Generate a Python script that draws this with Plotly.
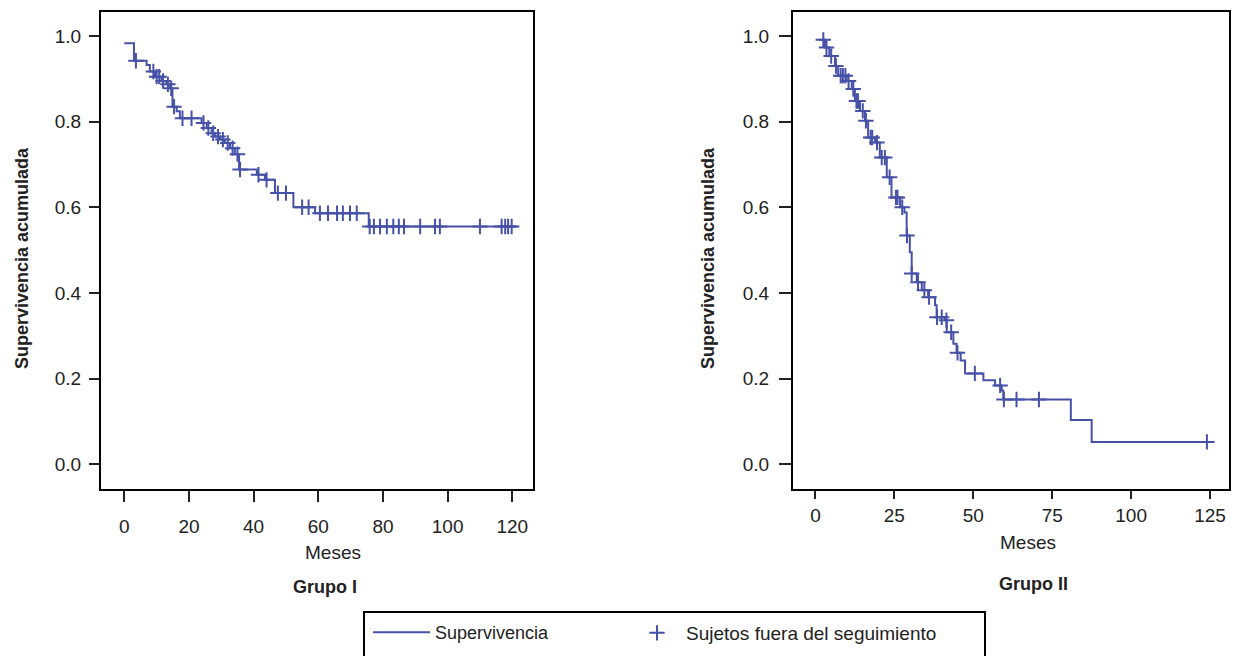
import numpy as np
import plotly.graph_objects as go

# ---------------- data ----------------
# Grupo I: Kaplan-Meier step points (time in months, cumulative survival after the step)
times_I = [0, 3, 6.9, 7.9, 9.5, 11.5, 13, 14.1, 14.9, 16.2, 17.2, 23.9, 25.5, 27, 28.1,
           29.6, 31.1, 32.7, 34.2, 35.5, 41, 43.5, 46.6, 52.3, 59, 75.6]
surv_I = [0.983, 0.942, 0.932, 0.917, 0.905, 0.895, 0.887, 0.878, 0.835, 0.824, 0.808,
          0.797, 0.785, 0.773, 0.765, 0.758, 0.750, 0.738, 0.724, 0.688, 0.676, 0.664,
          0.633, 0.600, 0.586, 0.555]
end_I = 121.4
censor_I = [3.6, 9, 10, 10.8, 12, 13.5, 14.5, 15.4, 18, 20.8, 24.5, 26, 27.5, 29, 30.5,
            32, 33.5, 35, 35.8, 41.5, 44, 47.5, 50, 55, 57, 60.5, 63, 65.8, 67.6, 69.8,
            71.9, 75.9, 77.2, 79.1, 81.2, 83.2, 84.9, 86.5, 91.5, 96.1, 97.6, 110,
            116.7, 117.8, 118.7, 119.8]

# Grupo II
times_II = [1.1, 3.0, 4.4, 6.2, 7.2, 9.9, 11.5, 12.5, 14.1, 15.7, 16.7, 18.9, 20.4, 22.6,
            24.1, 26.8, 28.2, 28.9, 29.9, 30.5, 32.1, 33.7, 35.7, 37.9, 38.4, 41.0, 41.6,
            43.7, 44.7, 46.0, 47.4, 53.2, 56.9, 59.0, 59.5, 80.9, 87.5]
surv_II = [0.991, 0.973, 0.953, 0.930, 0.907, 0.895, 0.876, 0.848, 0.825, 0.802, 0.763,
           0.751, 0.716, 0.670, 0.623, 0.600, 0.588, 0.534, 0.495, 0.445, 0.425, 0.406,
           0.390, 0.371, 0.343, 0.336, 0.308, 0.281, 0.260, 0.242, 0.212, 0.196, 0.184,
           0.172, 0.151, 0.103, 0.052]
end_II = 124.0
censor_II = [2.5, 3.5, 5, 6.5, 8, 8.7, 9.5, 10.5, 12, 13, 13.5, 15, 16, 17.5, 18, 19.5,
             21, 22, 23.5, 25.5, 26, 27.5, 29, 30.5, 32.5, 34.5, 36, 38.5, 40, 41.5, 43,
             45, 50.5, 58.5, 59.7, 63.7, 70.8, 124.0]

ticks_x_I = [0, 20, 40, 60, 80, 100, 120]
ticks_x_II = [0, 25, 50, 75, 100, 125]
ticks_y = [0.0, 0.2, 0.4, 0.6, 0.8, 1.0]

# ---------------- helpers ----------------
def step_value(times, surv, t):
    idx = np.searchsorted(np.asarray(times), t, side="right") - 1
    idx = max(idx, 0)
    return surv[idx]

COLOR = "#4651A8"
W, H = 1234, 656
FONT = "Liberation Sans, Arial, sans-serif"

fig = go.Figure()

def add_group(times, surv, end, censors, xa, ya, show):
    fig.add_trace(go.Scatter(
        x=list(times) + [end], y=list(surv) + [surv[-1]],
        mode="lines", line=dict(color=COLOR, width=2, shape="hv"),
        name="Supervivencia", showlegend=show, xaxis=xa, yaxis=ya, legend="legend"))
    fig.add_trace(go.Scatter(
        x=censors, y=[step_value(times, surv, c) for c in censors],
        mode="markers",
        marker=dict(symbol="cross-thin", size=11, line=dict(color=COLOR, width=2), color=COLOR),
        name="Sujetos fuera del seguimiento", showlegend=show, xaxis=xa, yaxis=ya,
        legend="legend2"))

add_group(times_I, surv_I, end_I, censor_I, "x", "y", True)
add_group(times_II, surv_II, end_II, censor_II, "x2", "y2", False)

ydom = [1 - 489 / H, 1 - 12 / H]
axis_common = dict(showline=True, mirror=True, linecolor="black", linewidth=2,
                   ticks="outside", tickwidth=2, tickcolor="#222", showgrid=False,
                   zeroline=False, tickfont=dict(size=19, color="#222", family=FONT))

legend_common = dict(orientation="h", yanchor="top", xanchor="left",
                     bgcolor="rgba(0,0,0,0)", borderwidth=0)

fig.update_layout(
    width=W, height=H,
    margin=dict(l=0, r=0, t=0, b=0),
    paper_bgcolor="white", plot_bgcolor="white",
    font=dict(family=FONT, color="#222"),
    xaxis=dict(domain=[101 / W, 533 / W], range=[-7.2, 126.4], tickvals=ticks_x_I,
               ticklen=11, ticklabelstandoff=8, anchor="y", **axis_common),
    yaxis=dict(domain=ydom, range=[-0.058, 1.056], tickvals=ticks_y, tickformat=".1f",
               ticklen=10, ticklabelstandoff=4, anchor="x", **axis_common),
    xaxis2=dict(domain=[793 / W, 1229 / W], range=[-7.1, 131.0], tickvals=ticks_x_II,
                ticklen=8, ticklabelstandoff=0, anchor="y2", **axis_common),
    yaxis2=dict(domain=ydom, range=[-0.058, 1.056], tickvals=ticks_y, tickformat=".1f",
                ticklen=12, ticklabelstandoff=6, anchor="x2", **axis_common),
    legend=dict(x=368 / W, y=1 - 614 / H, itemwidth=57,
                font=dict(size=18, color="#222", family=FONT), **legend_common),
    legend2=dict(x=628 / W, y=1 - 614 / H, itemwidth=48,
                 font=dict(size=19, color="#222", family=FONT), **legend_common),
    showlegend=True,
)

def ann(text, xpx, ypx, size, bold=False, angle=0):
    fig.add_annotation(
        text=f"<b>{text}</b>" if bold else text,
        x=xpx / W, y=1 - ypx / H, xref="paper", yref="paper",
        xanchor="center", yanchor="middle", showarrow=False, textangle=angle,
        font=dict(size=size, color="#222", family=FONT))

ann("Meses", 333, 552, 19)
ann("Meses", 1028, 542, 19)
ann("Grupo I", 325, 587, 18, bold=True)
ann("Grupo II", 1033, 584, 18, bold=True)
ann("Supervivencia acumulada", 22, 258, 18, bold=True, angle=-90)
ann("Supervivencia acumulada", 708, 258, 18, bold=True, angle=-90)

# legend frame
fig.add_shape(type="rect", xref="paper", yref="paper",
              x0=364 / W, x1=985 / W, y0=1 - 612 / H, y1=-0.1,
              line=dict(color="black", width=2), fillcolor="rgba(0,0,0,0)")

fig.write_html("out.html", config={"displayModeBar": False},
               post_script="document.body.style.margin='0';")
